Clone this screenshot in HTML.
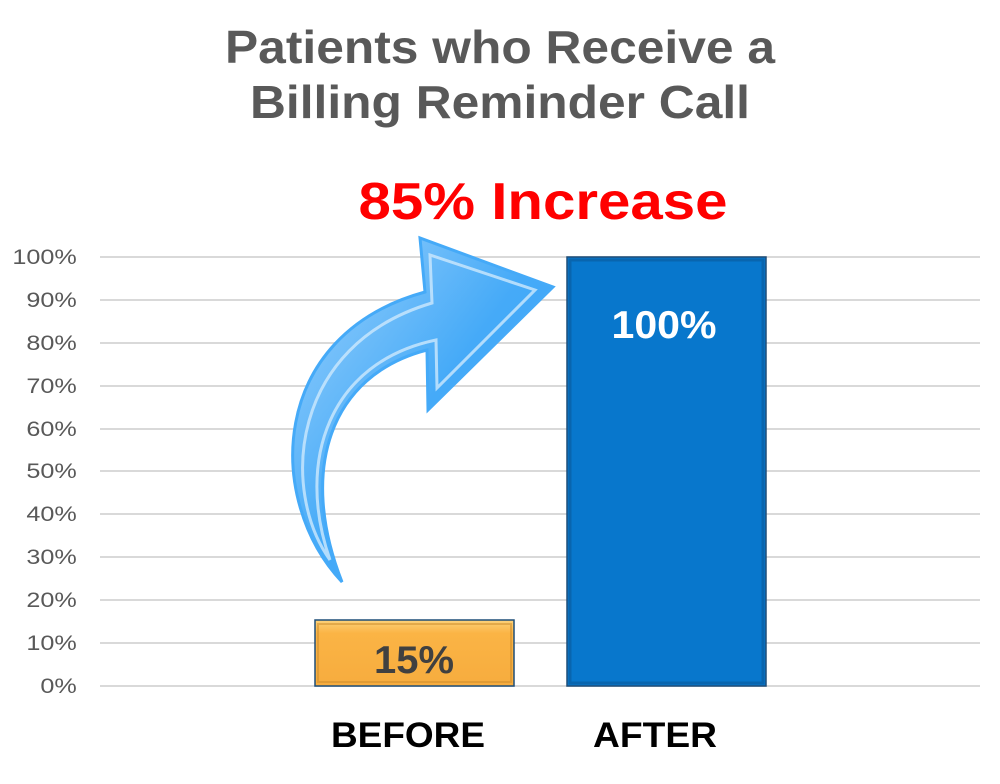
<!DOCTYPE html>
<html><head><style>
body{margin:0;width:1000px;height:779px;background:#fff;font-family:"Liberation Sans",Arial,sans-serif;overflow:hidden}
</style></head><body>
<svg width="1000" height="779" xmlns="http://www.w3.org/2000/svg" font-family="Liberation Sans, Arial, sans-serif">
<defs>
<linearGradient id="og" x1="0" y1="0" x2="0" y2="1"><stop offset="0" stop-color="#fdd27a"/><stop offset="0.2" stop-color="#fbb445"/><stop offset="1" stop-color="#f6ac3e"/></linearGradient>
<linearGradient id="ag" x1="0" y1="0" x2="1" y2="1"><stop offset="0" stop-color="#9fd3fb"/><stop offset="0.5" stop-color="#45aaf8"/><stop offset="1" stop-color="#3aa2f5"/></linearGradient>
</defs>
<text x="500" y="63" text-anchor="middle" font-size="46" font-weight="bold" fill="#595959" textLength="550" lengthAdjust="spacingAndGlyphs">Patients who Receive a</text>
<text x="500" y="118" text-anchor="middle" font-size="46" font-weight="bold" fill="#595959" textLength="500" lengthAdjust="spacingAndGlyphs">Billing Reminder Call</text>
<text x="543" y="219" text-anchor="middle" font-size="52" font-weight="bold" fill="#ff0000" textLength="369" lengthAdjust="spacingAndGlyphs">85% Increase</text>
<g stroke="#d9d9d9" stroke-width="2">
<line x1="100" x2="980" y1="257" y2="257"/><line x1="100" x2="980" y1="300" y2="300"/><line x1="100" x2="980" y1="343" y2="343"/><line x1="100" x2="980" y1="386" y2="386"/><line x1="100" x2="980" y1="429" y2="429"/><line x1="100" x2="980" y1="471" y2="471"/><line x1="100" x2="980" y1="514" y2="514"/><line x1="100" x2="980" y1="557" y2="557"/><line x1="100" x2="980" y1="600" y2="600"/><line x1="100" x2="980" y1="643" y2="643"/><line x1="100" x2="980" y1="686" y2="686"/>
</g>
<g font-size="21" fill="#595959" text-anchor="end" transform="scale(1.2,1)">
<text x="64" y="264">100%</text><text x="64" y="307">90%</text><text x="64" y="350">80%</text><text x="64" y="393">70%</text><text x="64" y="436">60%</text><text x="64" y="478">50%</text><text x="64" y="521">40%</text><text x="64" y="564">30%</text><text x="64" y="607">20%</text><text x="64" y="650">10%</text><text x="64" y="693">0%</text>
</g>
<rect x="315" y="620" width="199" height="66" fill="url(#og)" stroke="#1f4e79" stroke-width="1.5"/>
<rect x="318" y="624" width="193" height="58" fill="none" stroke="#c98a2a" stroke-width="2" opacity="0.5"/>
<text x="414" y="673" text-anchor="middle" font-size="39" font-weight="bold" fill="#404040" textLength="80" lengthAdjust="spacingAndGlyphs">15%</text>
<rect x="567" y="257" width="199" height="429" fill="#0877cc" stroke="#1f4e79" stroke-width="1.5"/>
<rect x="570" y="260" width="193" height="423" fill="none" stroke="#0a5a9a" stroke-width="3" opacity="0.6"/>
<text x="664" y="338" text-anchor="middle" font-size="39" font-weight="bold" fill="#fff" textLength="105" lengthAdjust="spacingAndGlyphs">100%</text>
<path d="M342,582 C265,500 268,335 425,292 L420,238 L553,287 L428,410 L427,350 C330,375 298,470 342,582 Z" fill="url(#ag)" stroke="#45aaf8" stroke-width="3"/>
<path d="M330,560 C280,490 290,345 432,303 L430,255 L535,290 L437,388 L436,340 C330,362 295,460 330,560" fill="none" stroke="#cde9fd" stroke-width="3" opacity="0.8"/>
<text x="408" y="747" text-anchor="middle" font-size="35" font-weight="bold" fill="#000" textLength="154" lengthAdjust="spacingAndGlyphs">BEFORE</text>
<text x="655" y="747" text-anchor="middle" font-size="35" font-weight="bold" fill="#000" textLength="124" lengthAdjust="spacingAndGlyphs">AFTER</text>
</svg>
</body></html>
